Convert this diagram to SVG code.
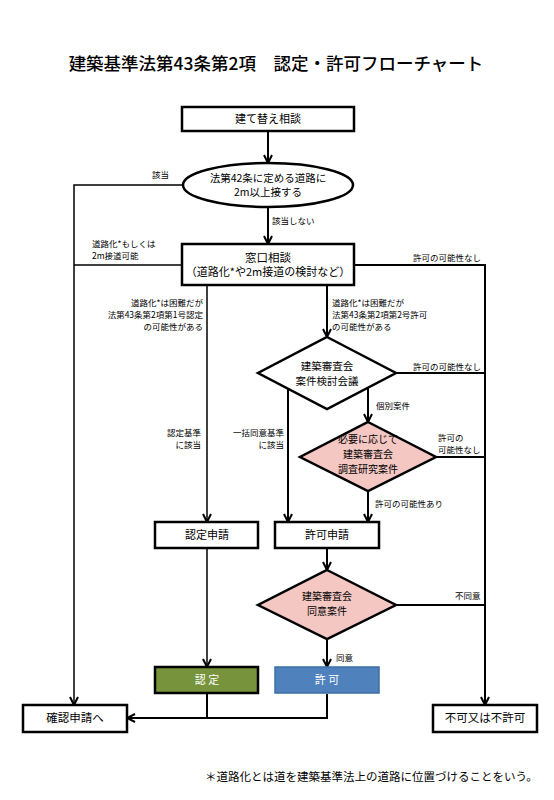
<svg xmlns="http://www.w3.org/2000/svg" width="554" height="800" viewBox="0 0 554 800">
<defs>
<marker id="arr" viewBox="0 0 10 10" refX="9" refY="5" markerWidth="10" markerHeight="10" markerUnits="userSpaceOnUse" orient="auto">
<path d="M1,1 L9,5 L1,9" fill="none" stroke="#000" stroke-width="2"/>
</marker>
<style>
text{font-family:"Noto Sans CJK JP","Noto Sans",sans-serif;fill:#000}
.t{font-size:11px;text-anchor:middle}
.l{font-size:8.5px}
.r{font-size:8.5px;text-anchor:end}
.box{fill:#fff;stroke:#000;stroke-width:2.5}
.dia{fill:#fff;stroke:#000;stroke-width:2.5}
.pink{fill:#f4c7c3;stroke:#000;stroke-width:2.5}
.ln{fill:none;stroke:#000;stroke-width:2}
.thin{fill:none;stroke:#000;stroke-width:1.5}
.w{fill:#fff}
</style>
</defs>
<rect width="554" height="800" fill="#fff"/>
<text x="276" y="70" style="font-size:17.5px;font-weight:500;text-anchor:middle">建築基準法第43条第2項　認定・許可フローチャート</text>

<g id="connectors">
<path class="ln" d="M268,131 V163" marker-end="url(#arr)"/>
<path class="thin" d="M183,185 H74 V705" marker-end="url(#arr)"/>
<path class="ln" d="M268,207 V244" marker-end="url(#arr)"/>
<path class="thin" d="M182,265 H74"/>
<path class="ln" d="M354,265 H485 V705" marker-end="url(#arr)"/>
<path class="thin" d="M207,285 V522" marker-end="url(#arr)"/>
<path class="ln" d="M327,285 V337" marker-end="url(#arr)"/>
<path class="ln" d="M396,373 H485"/>
<path class="ln" d="M288,389 V522" marker-end="url(#arr)"/>
<path class="ln" d="M368,388 V422" marker-end="url(#arr)"/>
<path class="ln" d="M436,457 H485"/>
<path class="ln" d="M368,491 V522" marker-end="url(#arr)"/>
<path class="thin" d="M207,548 V667" marker-end="url(#arr)"/>
<path class="ln" d="M327,548 V570" marker-end="url(#arr)"/>
<path class="ln" d="M396,605 H485"/>
<path class="ln" d="M327,639 V667" marker-end="url(#arr)"/>
<path class="ln" d="M207,694 V718"/>
<path class="ln" d="M327,694 V718 H127" marker-end="url(#arr)"/>

<text class="l" x="152" y="178">該当</text>
<text class="l" x="272" y="224">該当しない</text>
<text class="l" x="92" y="247">道路化*もしくは</text>
<text class="l" x="92" y="259">2m接道可能</text>
<text class="l" x="413" y="261">許可の可能性なし</text>
<text class="r" x="203" y="306">道路化*は困難だが</text>
<text class="r" x="203" y="318">法第43条第2項第1号認定</text>
<text class="r" x="203" y="330">の可能性がある</text>
<text class="l" x="332" y="306">道路化*は困難だが</text>
<text class="l" x="332" y="318">法第43条第2項第2号許可</text>
<text class="l" x="332" y="330">の可能性がある</text>
<text class="l" x="413" y="370">許可の可能性なし</text>
<text class="l" x="376" y="409">個別案件</text>
<text class="r" x="201" y="436">認定基準</text>
<text class="r" x="201" y="448">に該当</text>
<text class="r" x="284" y="436">一括同意基準</text>
<text class="r" x="284" y="448">に該当</text>
<text class="l" x="438" y="441">許可の</text>
<text class="l" x="438" y="453">可能性なし</text>
<text class="l" x="375" y="507">許可の可能性あり</text>
<text class="l" x="455" y="599">不同意</text>
<text class="l" x="336" y="661">同意</text>
</g>

<g id="n_start">
<rect class="box" x="182" y="107" width="172" height="24"/>
<text class="t" x="268" y="123">建て替え相談</text>
</g>
<g id="n_road">
<ellipse class="box" cx="268" cy="185" rx="85" ry="22"/>
<text class="t" x="268" y="181.5" style="font-size:10.5px">法第42条に定める道路に</text>
<text class="t" x="268" y="195.5" style="font-size:10.5px">2m以上接する</text>
</g>
<g id="n_window">
<rect class="box" x="182" y="244" width="172" height="41"/>
<text class="t" x="268" y="261.5" style="font-size:11.5px">窓口相談</text>
<text class="t" x="268" y="276" style="font-size:11px">（道路化*や2m接道の検討など）</text>
</g>
<g id="n_meeting">
<polygon class="dia" points="327,337 396,373 327,409 258,373"/>
<text class="t" x="327" y="369.5" style="font-size:10.5px">建築審査会</text>
<text class="t" x="327" y="385" style="font-size:10.5px">案件検討会議</text>
</g>
<g id="n_research">
<polygon class="pink" points="368,422 436,457 368,491 300,457"/>
<text class="t" x="368" y="443" style="font-size:10px">必要に応じて</text>
<text class="t" x="368" y="458" style="font-size:10px">建築審査会</text>
<text class="t" x="368" y="473" style="font-size:10px">調査研究案件</text>
</g>
<g id="n_nintei_apply">
<rect class="box" x="155" y="522" width="103" height="26"/>
<text class="t" x="207" y="539">認定申請</text>
</g>
<g id="n_kyoka_apply">
<rect class="box" x="275" y="522" width="104" height="26"/>
<text class="t" x="327" y="539">許可申請</text>
</g>
<g id="n_consent">
<polygon class="pink" points="327,570 396,605 327,639 258,605"/>
<text class="t" x="327" y="600" style="font-size:10px">建築審査会</text>
<text class="t" x="327" y="615" style="font-size:10px">同意案件</text>
</g>
<g id="n_nintei">
<rect x="155" y="667" width="103" height="26" fill="#77933c" stroke="#000" stroke-width="2.5"/>
<text class="t w" x="207" y="684">認 定</text>
</g>
<g id="n_kyoka">
<rect x="275" y="667" width="104" height="26" fill="#4f81bd" stroke="#3d6da6" stroke-width="1.5"/>
<text class="t w" x="327" y="684">許 可</text>
</g>
<g id="n_kakunin">
<rect class="box" x="23" y="705" width="104" height="27"/>
<text class="t" x="75" y="722" style="font-size:11.5px">確認申請へ</text>
</g>
<g id="n_fuka">
<rect class="box" x="433" y="705" width="104" height="27"/>
<text class="t" x="485" y="722" style="font-size:11.5px">不可又は不許可</text>
</g>
<text x="205" y="781" style="font-size:11.5px">＊道路化とは道を建築基準法上の道路に位置づけることをいう。</text>
</svg>
